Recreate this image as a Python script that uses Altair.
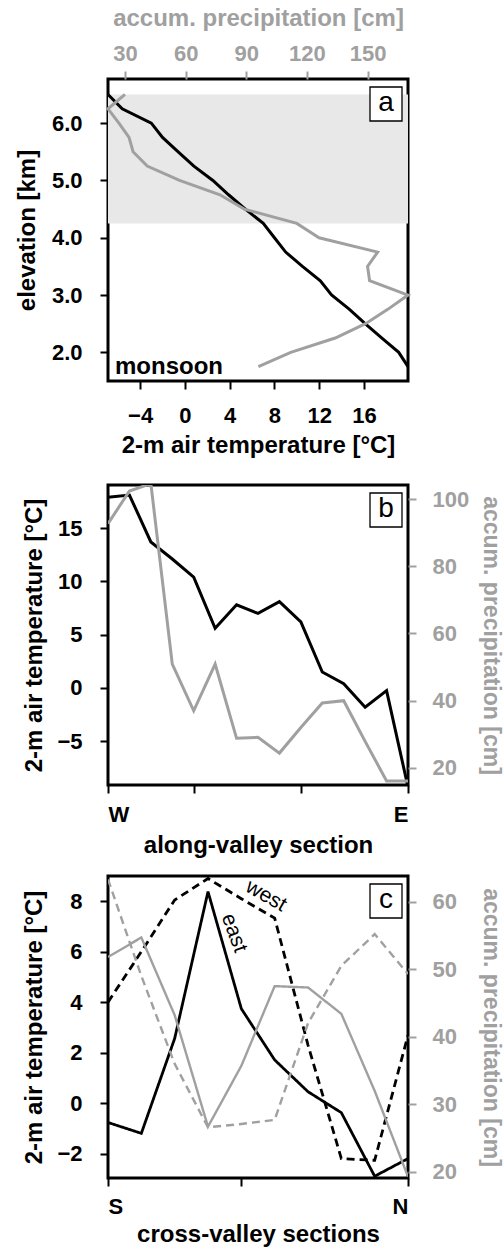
import altair as alt
import pandas as pd

FONT = "Liberation Sans"
GREY = "#a0a0a0"
BLACK = "#000000"
SHADE = "#e8e8e8"

# ---------------- panel a : vertical profile ----------------
elev_km = [1.75, 2.0, 2.25, 2.5, 2.75, 3.0, 3.25, 3.5, 3.75, 4.0,
           4.25, 4.5, 4.75, 5.0, 5.25, 5.5, 5.75, 6.0, 6.25, 6.5]
temp_a = [19.93, 19.1, 17.6, 16.1, 14.7, 13.1, 12.1, 10.5, 9.0, 8.0,
          7.0, 5.4, 3.9, 2.5, 0.8, -0.6, -2.0, -3.0, -5.6, -6.87]
precip_a = [96, 112, 134, 149, 160, 170, 151, 150, 155, 126,
            115, 89, 77, 57, 41, 34, 32, 27, 21.6, 30]
shade_km = [4.25, 6.5]

# ---------------- panel b : along-valley ----------------
section_b = list(range(15))
temp_b = [17.9, 18.1, 13.7, 12.1, 10.4, 5.6, 7.8, 7.0, 8.1, 6.2, 1.5, 0.4, -1.8, -0.25, -9.3]
precip_b = [92.7, 102.4, 104.6, 50.9, 37.0, 50.9, 28.8, 29.1, 24.4, 32.0, 39.3, 40.0, 27.9, 16.1, 16.1]

# ---------------- panel c : cross-valley ----------------
section_c = list(range(10))
temp_c_east = [-0.77, -1.2, 2.56, 8.38, 3.74, 1.71, 0.45, -0.38, -2.9, -2.2]
temp_c_west = [4.0, 6.0, 8.05, 8.9, 8.1, 7.33, 2.3, -2.2, -2.27, 2.69]
precip_c_east = [51.8, 54.7, 43.2, 26.7, 35.7, 47.5, 47.3, 43.4, 32.0, 19.3]
precip_c_west = [63.3, 49.0, 36.0, 26.6, 27.1, 27.7, 42.0, 50.5, 55.2, 49.3]

W = 300
HA, HB, HC = 302, 300, 302

df_a = pd.DataFrame({"elev": elev_km, "temp": temp_a, "precip": precip_a})
df_shade = pd.DataFrame({"elev": [shade_km[0]], "elev2": [shade_km[1]]})
df_b = pd.DataFrame({"s": section_b, "temp": temp_b, "precip": precip_b})
df_ct = pd.DataFrame({"s": section_c * 2, "side": ["east"] * 10 + ["west"] * 10,
                      "temp": temp_c_east + temp_c_west})
df_cp = pd.DataFrame({"s": section_c * 2, "side": ["east"] * 10 + ["west"] * 10,
                      "precip": precip_c_east + precip_c_west})
one = pd.DataFrame({"k": [0]})


def grey_axis(**kw):
    return alt.Axis(labelColor=GREY, titleColor=GREY, tickColor=GREY, **kw)


def panel_box(letter):
    box = alt.Chart(one).mark_rect(fill="white", stroke=BLACK, strokeWidth=1.3).encode(
        x=alt.value(W - 38), x2=alt.value(W - 6), y=alt.value(8), y2=alt.value(42))
    txt = alt.Chart(pd.DataFrame({"t": [letter]})).mark_text(
        font=FONT, fontSize=28, color=BLACK, align="center", baseline="middle").encode(
        text="t:N", x=alt.value(W - 22), y=alt.value(24))
    return [box, txt]


def spacer(offset):
    # invisible rule that only reserves room below a panel
    return alt.Chart(one).mark_rule(opacity=0).encode(
        x=alt.value(0), x2=alt.value(2), y=alt.value(offset))


# ---- panel a ----
yel = alt.Y("elev:Q", scale=alt.Scale(domain=[1.5, 6.77], nice=False, zero=False),
            axis=alt.Axis(values=[2, 3, 4, 5, 6], format=".1f", title="elevation [km]",
                          labelPadding=18, titlePadding=12))
shade = alt.Chart(df_shade).mark_rect(color=SHADE).encode(
    x=alt.value(0), x2=alt.value(W), y=yel, y2="elev2:Q")
line_a_t = alt.Chart(df_a).mark_line(color=BLACK, strokeWidth=3).encode(
    x=alt.X("temp:Q", scale=alt.Scale(domain=[-6.87, 19.93], nice=False, zero=False),
            axis=alt.Axis(orient="bottom", values=[-4, 0, 4, 8, 12, 16],
                          title="2-m air temperature [°C]", labelPadding=16, titlePadding=7)),
    y=yel, order="elev:Q")
line_a_p = alt.Chart(df_a).mark_line(color=GREY, strokeWidth=3).encode(
    x=alt.X("precip:Q", scale=alt.Scale(domain=[21.6, 170.0], nice=False, zero=False),
            axis=grey_axis(orient="top", values=[30, 60, 90, 120, 150],
                           title="accum. precipitation [cm]", labelPadding=6, titlePadding=12)),
    y=yel, order="elev:Q")
monsoon = alt.Chart(pd.DataFrame({"t": ["monsoon"]})).mark_text(
    font=FONT, fontSize=24, fontWeight="bold", align="left", baseline="alphabetic",
    color=BLACK).encode(text="t:N", x=alt.value(7), y=alt.value(295))
panel_a = alt.layer(shade, line_a_t, line_a_p, monsoon, *panel_box("a"),
                    spacer(HA + 85)).resolve_scale(x="independent").properties(width=W, height=HA)

# ---- panel b ----
xb = alt.X("s:Q", scale=alt.Scale(domain=[0, 14], nice=False, zero=False),
           axis=alt.Axis(values=[0, 4, 9, 14],
                         labelExpr="datum.value == 0 ? 'W' : (datum.value == 14 ? 'E' : '')",
                         title="along-valley section", labelPadding=11, titlePadding=8))
line_b_t = alt.Chart(df_b).mark_line(color=BLACK, strokeWidth=3, clip=True).encode(
    x=xb,
    y=alt.Y("temp:Q", scale=alt.Scale(domain=[-9.1, 19.04], nice=False, zero=False),
            axis=alt.Axis(values=[-5, 0, 5, 10, 15], title="2-m air temperature [°C]",
                          labelPadding=18, titlePadding=10)))
line_b_p = alt.Chart(df_b).mark_line(color=GREY, strokeWidth=3, clip=True).encode(
    x=xb,
    y=alt.Y("precip:Q", scale=alt.Scale(domain=[14.9, 104.2], nice=False, zero=False),
            axis=grey_axis(orient="right", values=[20, 40, 60, 80, 100],
                           title="accum. precipitation [cm]", labelPadding=16, titlePadding=10,
                           titleFontSize=23)))
panel_b = alt.layer(line_b_t, line_b_p, *panel_box("b")).resolve_scale(
    y="independent").properties(width=W, height=HB)

# ---- panel c ----
xc = alt.X("s:Q", scale=alt.Scale(domain=[0, 9], nice=False, zero=False),
           axis=alt.Axis(values=[0, 4, 9],
                         labelExpr="datum.value == 0 ? 'S' : (datum.value == 9 ? 'N' : '')",
                         title="cross-valley sections", labelPadding=10, titlePadding=5))
dash = alt.StrokeDash("side:N", scale=alt.Scale(domain=["east", "west"], range=[[1, 0], [8, 5]]),
                      legend=None)
line_c_t = alt.Chart(df_ct).mark_line(color=BLACK, strokeWidth=2.8, clip=True).encode(
    x=xc,
    y=alt.Y("temp:Q", scale=alt.Scale(domain=[-2.97, 9.0], nice=False, zero=False),
            axis=alt.Axis(values=[-2, 0, 2, 4, 6, 8], title="2-m air temperature [°C]",
                          labelPadding=18, titlePadding=10)),
    strokeDash=dash, detail="side:N")
line_c_p = alt.Chart(df_cp).mark_line(color=GREY, strokeWidth=2.4, clip=True).encode(
    x=xc,
    y=alt.Y("precip:Q", scale=alt.Scale(domain=[19.1, 63.8], nice=False, zero=False),
            axis=grey_axis(orient="right", values=[20, 30, 40, 50, 60],
                           title="accum. precipitation [cm]", labelPadding=16, titlePadding=22,
                           titleFontSize=23)),
    strokeDash=dash, detail="side:N")
lab_west = alt.Chart(pd.DataFrame({"t": ["west"]})).mark_text(
    font=FONT, fontSize=21, angle=30, color=BLACK, align="center", baseline="middle").encode(
    text="t:N", x=alt.value(158), y=alt.value(20))
lab_east = alt.Chart(pd.DataFrame({"t": ["east"]})).mark_text(
    font=FONT, fontSize=21, angle=70, color=BLACK, align="center", baseline="middle").encode(
    text="t:N", x=alt.value(126), y=alt.value(57))
panel_c = alt.layer(line_c_t, line_c_p, lab_west, lab_east, *panel_box("c")).resolve_scale(
    y="independent").properties(width=W, height=HC)

chart = alt.vconcat(panel_a, panel_b, panel_c, spacing=15).properties(
    padding={"left": 13, "top": 4, "right": 0, "bottom": 0}
).configure_view(stroke=BLACK, strokeWidth=3).configure_axis(
    domain=False, grid=False, tickColor=BLACK, tickWidth=2, tickSize=8,
    labelFont=FONT, labelFontSize=22, labelFontWeight="bold", labelColor=BLACK,
    titleFont=FONT, titleFontSize=24, titleFontWeight="bold", titleColor=BLACK,
    labelOverlap=False,
)

chart.save("out.html", embed_options={"renderer": "svg", "actions": False})
